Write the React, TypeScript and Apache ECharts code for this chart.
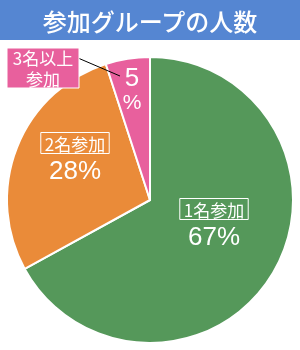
import React, { useEffect, useRef } from "react";
import * as echarts from "echarts";

const title = "参加グループの人数";
const categories = ["1名参加", "2名参加", "3名以上参加"];
const values = [67, 28, 5];
const colors = ["#55985a", "#ea8b39", "#e8609d"];

const FONT = "'Noto Sans CJK JP', 'Noto Sans', sans-serif";
const NUMFONT = "'Liberation Sans', Arial, sans-serif";

export default function App() {
  const ref = useRef<HTMLDivElement>(null);
  useEffect(() => {
    if (!ref.current) return;
    const chart = echarts.init(ref.current, null, { renderer: "svg" });
    const labelPos = [
      { x: 214, y: 226 },
      { x: 75, y: 160 },
      { x: 132, y: 88 },
    ];
    const pinkName = categories[2];
    chart.setOption({
      animation: false,
      textStyle: { fontFamily: FONT },
      graphic: [
        {
          type: "rect",
          shape: { x: 0, y: 0, width: 300, height: 40 },
          style: { fill: "#5586d2" },
          z: 10,
        },
        {
          type: "text",
          x: 150,
          y: 20,
          style: {
            text: title,
            fill: "#fff",
            font: `500 24px ${FONT}`,
            align: "center",
            verticalAlign: "middle",
          },
          z: 11,
        },
        {
          type: "line",
          shape: { x1: 78, y1: 58, x2: 120, y2: 76 },
          style: { stroke: "#000", lineWidth: 1 },
          z: 20,
        },
        {
          type: "rect",
          shape: { x: 7, y: 48, width: 72, height: 40 },
          style: { fill: colors[2], stroke: "#fff", lineWidth: 1 },
          z: 21,
        },
        {
          type: "text",
          x: 43,
          y: 57,
          style: {
            text: pinkName.slice(0, 4),
            fill: "#fff",
            font: `17px ${FONT}`,
            lineHeight: 18,
            align: "center",
            verticalAlign: "middle",
          },
          z: 22,
        },
        {
          type: "text",
          x: 43,
          y: 78,
          style: {
            text: pinkName.slice(4),
            fill: "#fff",
            font: `17px ${FONT}`,
            lineHeight: 18,
            align: "center",
            verticalAlign: "middle",
          },
          z: 22,
        },
      ],
      series: [
        {
          type: "pie",
          center: [150, 200],
          radius: 143,
          startAngle: 90,
          clockwise: true,
          data: values.map((v, i) => ({
            value: v,
            name: categories[i],
            itemStyle: { color: colors[i] },
          })),
          itemStyle: { borderColor: "#fff", borderWidth: 2 },
          labelLine: { show: false },
          label: {
            show: true,
            position: "inside",
            color: "#fff",
            fontFamily: FONT,
            formatter: (p: any) => {
              if (p.dataIndex === 2) return `{big|${p.value}}\n{pu|%}`;
              return `{box|${p.name}}\n{pct|${p.value}%}`;
            },
            rich: {
              box: {
                fontSize: 17,
                lineHeight: 20,
                padding: [2, 4, 2, 4],
                borderColor: "#fff",
                borderWidth: 1,
                color: "#fff",
                fontFamily: FONT,
              },
              pct: {
                fontSize: 26,
                lineHeight: 34,
                color: "#fff",
                fontFamily: NUMFONT,
              },
              big: {
                fontSize: 26,
                lineHeight: 26,
                color: "#fff",
                fontFamily: NUMFONT,
              },
              pu: {
                fontSize: 21,
                lineHeight: 22,
                color: "#fff",
                fontFamily: NUMFONT,
              },
            },
          },
          labelLayout: (params: any) => {
            const p = labelPos[params.dataIndex];
            return { x: p.x, y: p.y, align: "center", verticalAlign: "middle" };
          },
        },
      ],
    });
    return () => chart.dispose();
  }, []);
  return (
    <div
      ref={ref}
      style={{ position: "fixed", left: 0, top: 0, width: 300, height: 350 }}
    />
  );
}
